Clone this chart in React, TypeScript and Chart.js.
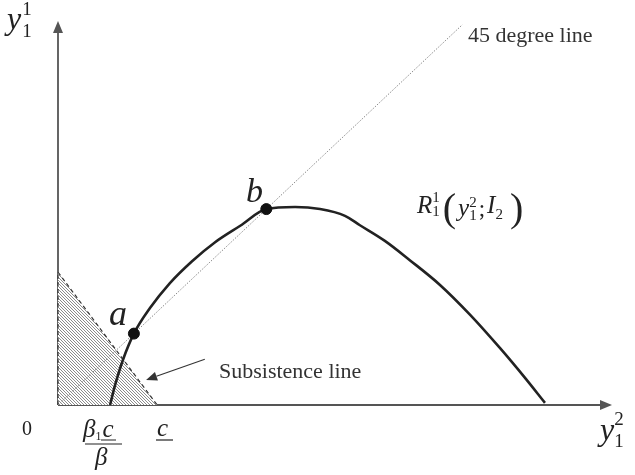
import { useEffect, useRef } from "react";
import { Chart, registerables } from "chart.js";

Chart.register(...registerables);

// Reaction curve R_1^1(y_1^2; I_2)
const curveX = [0.94, 1.03, 1.17, 1.37, 1.66, 2.02, 2.42, 2.83, 3.29, 3.76, 4.28, 4.73, 5.18, 5.45, 5.9, 6.35, 6.9, 7.44, 7.98, 8.43, 8.79];
const curveY = [0, 0.38, 0.86, 1.37, 1.86, 2.34, 2.76, 3.12, 3.44, 3.76, 3.8, 3.76, 3.63, 3.45, 3.15, 2.78, 2.3, 1.73, 1.09, 0.52, 0.04];

// 45 degree line y = x
const diagX = [0, 7.3];
const diagY = [0, 7.3];

// Subsistence region corners
const subX = [0, 0, 1.79];
const subY = [0, 2.55, 0];

// Equilibrium points a and b (on the 45 degree line)
const eqX = [1.37, 3.76];
const eqY = [1.37, 3.76];

const X_MAX = 10;
const Y_MAX = 7.37;

const SERIF = '"Liberation Serif", "Times New Roman", serif';

const pts = (xs: number[], ys: number[]) => xs.map((x, i) => ({ x, y: ys[i] }));

type Piece = { t: string; size: number; italic?: boolean; dy?: number; gap?: number } | { sup: string; sub: string; size: number; up: number; down: number; gap?: number };

function font(size: number, italic?: boolean) {
  return `${italic ? "italic " : ""}${size}px ${SERIF}`;
}

function put(ctx: CanvasRenderingContext2D, s: string, x: number, y: number, size: number, italic = false, color = "#222") {
  ctx.font = font(size, italic);
  ctx.fillStyle = color;
  ctx.textAlign = "left";
  ctx.textBaseline = "alphabetic";
  ctx.fillText(s, x, y);
  return ctx.measureText(s).width;
}

// lays out a formula left to right along one baseline
function run(ctx: CanvasRenderingContext2D, x: number, base: number, pieces: Piece[], color = "#222") {
  let cx = x;
  for (const p of pieces) {
    cx += p.gap ?? 0;
    if ("t" in p) {
      cx += put(ctx, p.t, cx, base + (p.dy ?? 0), p.size, p.italic, color);
    } else {
      const w1 = put(ctx, p.sup, cx, base - p.up, p.size, false, color);
      const w2 = put(ctx, p.sub, cx, base + p.down, p.size, false, color);
      cx += Math.max(w1, w2);
    }
  }
  return cx;
}

function arrow(ctx: CanvasRenderingContext2D, x1: number, y1: number, x2: number, y2: number, len: number, half: number, color: string, width: number) {
  const a = Math.atan2(y2 - y1, x2 - x1);
  const bx = x2 - len * Math.cos(a);
  const by = y2 - len * Math.sin(a);
  ctx.strokeStyle = color;
  ctx.lineWidth = width;
  ctx.beginPath();
  ctx.moveTo(x1, y1);
  ctx.lineTo(bx, by);
  ctx.stroke();
  ctx.fillStyle = color;
  ctx.beginPath();
  ctx.moveTo(x2, y2);
  ctx.lineTo(bx + half * Math.sin(a), by - half * Math.cos(a));
  ctx.lineTo(bx - half * Math.sin(a), by + half * Math.cos(a));
  ctx.closePath();
  ctx.fill();
}

function hatch(): CanvasPattern | string {
  const c = document.createElement("canvas");
  c.width = 3;
  c.height = 3;
  const g = c.getContext("2d");
  if (!g) return "#bbb";
  g.fillStyle = "#ffffff";
  g.fillRect(0, 0, 3, 3);
  g.fillStyle = "#8c8c8c";
  for (let i = 0; i < 3; i++) g.fillRect(i, i, 1, 1);
  const p = g.createPattern(c, "repeat");
  return p ?? "#bbb";
}

const axesPlugin = {
  id: "axesArrows",
  beforeDatasetsDraw(chart: Chart) {
    const ctx = chart.ctx;
    const xs = chart.scales.x;
    const ys = chart.scales.y;
    const ox = xs.getPixelForValue(0);
    const oy = ys.getPixelForValue(0);
    ctx.save();
    arrow(ctx, ox, oy, xs.getPixelForValue(X_MAX), oy, 12, 5, "#555", 1.8);
    arrow(ctx, ox, oy, ox, ys.getPixelForValue(Y_MAX), 12, 5, "#555", 1.8);
    ctx.restore();
  },
  afterDatasetsDraw(chart: Chart) {
    const ctx = chart.ctx;
    const xs = chart.scales.x;
    const ys = chart.scales.y;
    const px = (v: number) => xs.getPixelForValue(v);
    const py = (v: number) => ys.getPixelForValue(v);
    ctx.save();

    // pointer to the subsistence line
    arrow(ctx, px(2.65), py(0.88), px(1.59), py(0.48), 11, 4.5, "#333", 1.1);

    // axis labels
    run(ctx, 7, 29, [{ t: "y", size: 32, italic: true }, { sup: "1", sub: "1", size: 19, up: 14, down: 8, gap: 1 }]);
    run(ctx, 600, 440, [{ t: "y", size: 32, italic: true }, { sup: "2", sub: "1", size: 19, up: 15, down: 7, gap: 0 }]);

    put(ctx, "0", 22, 435, 20);

    // beta_1 c / beta
    const nEnd = run(ctx, 83, 437, [
      { t: "\u03B2", size: 25, italic: true },
      { t: "1", size: 12, dy: 3 },
      { t: "c", size: 25, italic: true, gap: 1 },
    ]);
    ctx.strokeStyle = "#222";
    ctx.lineWidth = 1.2;
    ctx.beginPath();
    ctx.moveTo(101, 440);
    ctx.lineTo(Math.max(nEnd, 116), 440);
    ctx.moveTo(85, 444);
    ctx.lineTo(122, 444);
    ctx.stroke();
    put(ctx, "\u03B2", 95, 465, 25, true);

    // c underlined
    put(ctx, "c", 157, 436, 25, true);
    ctx.beginPath();
    ctx.moveTo(156, 440);
    ctx.lineTo(173, 440);
    ctx.stroke();

    // point labels
    put(ctx, "a", 109, 325, 36, true);
    put(ctx, "b", 246, 202, 34, true);

    // R_1^1(y_1^2; I_2)
    run(ctx, 417, 213, [
      { t: "R", size: 25, italic: true },
      { sup: "1", sub: "1", size: 15, up: 11, down: 3 },
      { t: "(", size: 40, dy: 8, gap: 3 },
      { t: "y", size: 25, italic: true, dy: 3, gap: 2 },
      { sup: "2", sub: "1", size: 15, up: 6, down: 7 },
      { t: ";", size: 23, dy: 3, gap: 2 },
      { t: "I", size: 25, italic: true, gap: 2 },
      { t: "2", size: 15, dy: 6, gap: 0 },
      { t: ")", size: 40, dy: 8, gap: 7 },
    ]);

    put(ctx, "45 degree line", 468, 42, 22, false, "#333");
    put(ctx, "Subsistence line", 219, 378, 22, false, "#333");

    ctx.restore();
  },
};

export default function App() {
  const ref = useRef<HTMLCanvasElement | null>(null);

  useEffect(() => {
    if (!ref.current) return;
    const chart = new Chart(ref.current, {
      type: "scatter",
      data: {
        datasets: [
          {
            label: "subsistence",
            data: pts(subX, subY),
            showLine: true,
            fill: "origin",
            backgroundColor: hatch() as any,
            borderColor: "#333",
            borderWidth: 1.2,
            borderDash: [4, 3],
            pointRadius: 0,
            tension: 0,
            clip: false,
            order: 4,
          },
          {
            label: "45 degree line",
            data: pts(diagX, diagY),
            showLine: true,
            borderColor: "#8a8a8a",
            borderWidth: 1,
            borderDash: [1.5, 1.5],
            pointRadius: 0,
            clip: false,
            order: 3,
          },
          {
            label: "R",
            data: pts(curveX, curveY),
            showLine: true,
            borderColor: "#222",
            borderWidth: 2.6,
            pointRadius: 0,
            cubicInterpolationMode: "monotone",
            clip: false,
            order: 2,
          },
          {
            label: "equilibria",
            data: pts(eqX, eqY),
            showLine: false,
            pointRadius: 5.5,
            pointBackgroundColor: "#111",
            pointBorderColor: "#111",
            clip: false,
            order: 1,
          },
        ],
      },
      options: {
        responsive: false,
        animation: false,
        layout: { padding: { left: 58, right: 23, top: 21, bottom: 70 } },
        plugins: { legend: { display: false }, tooltip: { enabled: false } },
        events: [],
        scales: {
          x: { type: "linear", min: 0, max: X_MAX, display: false },
          y: { type: "linear", min: 0, max: Y_MAX, display: false },
        },
      },
      plugins: [axesPlugin],
    });
    return () => chart.destroy();
  }, []);

  return (
    <div style={{ position: "fixed", left: 0, top: 0, width: 635, height: 475, background: "#fff" }}>
      <canvas ref={ref} width={635} height={475} />
    </div>
  );
}
